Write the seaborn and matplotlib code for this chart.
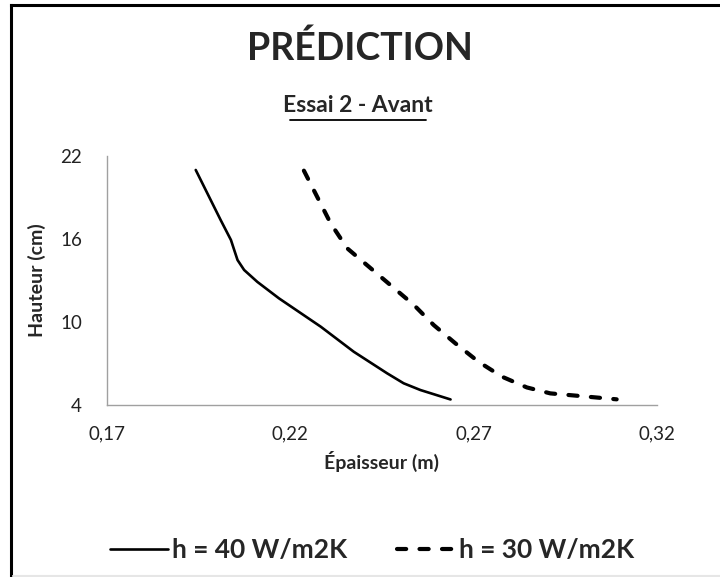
import matplotlib
matplotlib.use("Agg")
import matplotlib.pyplot as plt
import seaborn as sns
import pandas as pd
from matplotlib.lines import Line2D

sns.set_theme(style="white")
plt.rcParams['font.family'] = ['Lato', 'DejaVu Sans']

# Data
h40_x = [0.1942, 0.2010, 0.2038, 0.2047, 0.2056, 0.2074, 0.2110, 0.2169, 0.2283,
         0.2373, 0.2464, 0.2509, 0.2555, 0.2637]
h40_y = [20.99, 17.37, 15.93, 15.20, 14.48, 13.76, 12.90, 11.71, 9.66,
         7.85, 6.29, 5.57, 5.08, 4.40]
h30_x = [0.2237, 0.2273, 0.2310, 0.2355, 0.2414, 0.2473, 0.2537, 0.2591, 0.2650, 0.2713,
         0.2777, 0.2845, 0.2909, 0.2990, 0.3090]
h30_y = [20.94, 19.06, 17.13, 15.33, 14.00, 12.67, 11.23, 9.78, 8.46, 7.13,
         6.05, 5.27, 4.84, 4.65, 4.41]
xticks = [0.17, 0.22, 0.27, 0.32]
xtick_labels = ["0,17", "0,22", "0,27", "0,32"]
yticks = [4, 10, 16, 22]
series_names = ["h = 40 W/m2K", "h = 30 W/m2K"]

W, H = 720, 577
fig = plt.figure(figsize=(W / 100, H / 100), dpi=100)
fig.patch.set_facecolor("white")
ax = fig.add_axes([107 / W, 1 - 405 / H, 550 / W, 249 / H])

df40 = pd.DataFrame({"x": h40_x, "y": h40_y})
df30 = pd.DataFrame({"x": h30_x, "y": h30_y})
sns.lineplot(data=df40, x="x", y="y", sort=False, estimator=None, ax=ax,
             color="black", lw=1.9)
sns.lineplot(data=df30, x="x", y="y", sort=False, estimator=None, ax=ax,
             color="black", lw=3.0)
ax.lines[1].set_dashes((2.2, 3.2))
ax.lines[1].set_dash_capstyle("round")
ax.lines[0].set_solid_capstyle("round")
ax.lines[0].set_solid_joinstyle("round")

ax.set_xlim(0.17, 0.32)
ax.set_ylim(4, 22)
ax.set_xticks(xticks, xtick_labels)
ax.set_yticks(yticks)
ax.tick_params(axis="both", which="both", direction="out", length=6, width=1,
               color="#a0a0a0", labelsize=13.5, labelcolor="#222222")
ax.tick_params(axis="x", pad=9)
ax.tick_params(axis="y", pad=12)
for s in ["top", "right"]:
    ax.spines[s].set_visible(False)
for s in ["left", "bottom"]:
    ax.spines[s].set_color("#a0a0a0")
    ax.spines[s].set_linewidth(1)
ax.set_facecolor("white")
ax.set_xlabel("Épaisseur (m)", fontsize=14, fontweight="bold", labelpad=6)
ax.set_ylabel("Hauteur (cm)", fontsize=14, fontweight="bold", labelpad=10)

fig.text(360 / W, 1 - 48 / H, "PRÉDICTION", ha="center", va="center",
         fontsize=27, fontweight="bold")
fig.text(358 / W, 1 - 105 / H, "Essai 2 - Avant", ha="center", va="center",
         fontsize=16.5, fontweight="bold")
fig.add_artist(Line2D([290 / W, 426 / W], [1 - 120 / H, 1 - 120 / H],
                      color="black", lw=1.3, transform=fig.transFigure))

# outer frame (left and top edges visible), faint bottom edge
fig.add_artist(Line2D([11 / W, 11 / W], [0, 1 - 5 / H], color="black", lw=2.2,
                      transform=fig.transFigure, solid_capstyle="projecting"))
fig.add_artist(Line2D([11 / W, 1], [1 - 5 / H, 1 - 5 / H], color="black", lw=2.2,
                      transform=fig.transFigure, solid_capstyle="projecting"))
fig.add_artist(Line2D([13 / W, 1], [1.5 / H, 1.5 / H], color="#e6e6e6", lw=1.5,
                      transform=fig.transFigure))

handles = [Line2D([], [], color="black", lw=1.9),
           Line2D([], [], color="black", lw=3.0, dashes=(2.2, 3.2), dash_capstyle="round")]
fig.legend(handles, series_names, loc="center", bbox_to_anchor=(372 / W, 1 - 550 / H),
           ncol=2, frameon=False, prop={"size": 19, "weight": "bold"},
           handlelength=2.2, handletextpad=0.15, columnspacing=1.9)

fig.savefig("out.png", dpi=100, facecolor="white")
